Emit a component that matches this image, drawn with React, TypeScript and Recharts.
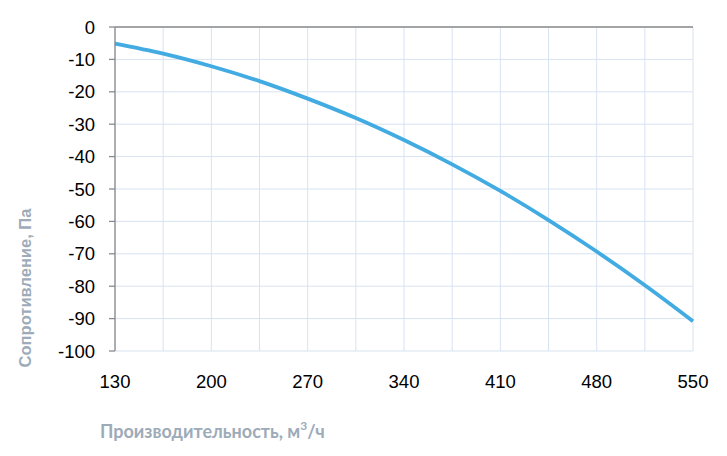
import { CartesianGrid, Line, LineChart, ReferenceLine, XAxis, YAxis } from 'recharts';

// airflow, m3/h (gridline every 35, label every 70)
const flow = [130, 165, 200, 235, 270, 305, 340, 375, 410, 445, 480, 515, 550];
// pressure, Pa
const pressure = [-5.1, -8.2, -12.1, -16.7, -22.1, -28.1, -34.9, -42.4, -50.6, -59.6, -69.3, -79.7, -90.8];
const yTicks = [0, -10, -20, -30, -40, -50, -60, -70, -80, -90, -100];

const data = flow.map((f, i) => ({ flow: f, pressure: pressure[i] }));

const TITLE_COLOR = '#9DABB9';
const TICK_FONT = "'Liberation Sans', Arial, sans-serif";

const XTitle = (props: any) => {
    const vb = props.viewBox;
    return (
        <text
            x={vb.x - 15}
            y={vb.y + 87}
            fill={TITLE_COLOR}
            fontFamily="Lato, 'Open Sans', sans-serif"
            fontWeight={700}
            fontSize={18}
        >
            Производительность, м
            <tspan dy={-8} fontSize={12}>3</tspan>
            <tspan dy={8}>/ч</tspan>
        </text>
    );
};

const YTitle = (props: any) => {
    const vb = props.viewBox;
    const x = vb.x + 17;
    const y = vb.y + 261;
    return (
        <text
            x={x}
            y={y}
            transform={`rotate(-90, ${x}, ${y})`}
            textAnchor="middle"
            dominantBaseline="central"
            fill={TITLE_COLOR}
            fontFamily={TICK_FONT}
            fontWeight={700}
            fontSize={16.5}
        >
            Сопротивление, Па
        </text>
    );
};

export default function App() {
    return (
        <LineChart
            width={711}
            height={440}
            data={data}
            margin={{ top: 19, right: 26, left: 0, bottom: 0 }}
        >
            <CartesianGrid stroke="#D8E3F1" strokeWidth={1} />
            <XAxis
                dataKey="flow"
                type="number"
                domain={[130, 550]}
                ticks={flow}
                interval={0}
                tickFormatter={(v: number) => ((v - 130) % 70 === 0 ? String(v) : '')}
                axisLine={false}
                tickLine={false}
                tickSize={0}
                tickMargin={24}
                height={97}
                tick={{ fill: '#000', fontSize: 18.5, fontFamily: TICK_FONT }}
                label={<XTitle />}
            />
            <YAxis
                type="number"
                domain={[-100, 0]}
                ticks={yTicks}
                interval={0}
                width={107}
                axisLine={{ stroke: '#8A8A8A', strokeWidth: 1.3 }}
                tickLine={{ stroke: '#8A8A8A', strokeWidth: 1.3 }}
                tickSize={6}
                tickMargin={14}
                tick={{ fill: '#000', fontSize: 18.5, fontFamily: TICK_FONT }}
                label={<YTitle />}
            />
            <ReferenceLine y={0} stroke="#8A8A8A" strokeWidth={1.3} />
            <Line
                type="monotone"
                dataKey="pressure"
                stroke="#41ABE2"
                strokeWidth={3.8}
                dot={false}
                isAnimationActive={false}
            />
        </LineChart>
    );
}
